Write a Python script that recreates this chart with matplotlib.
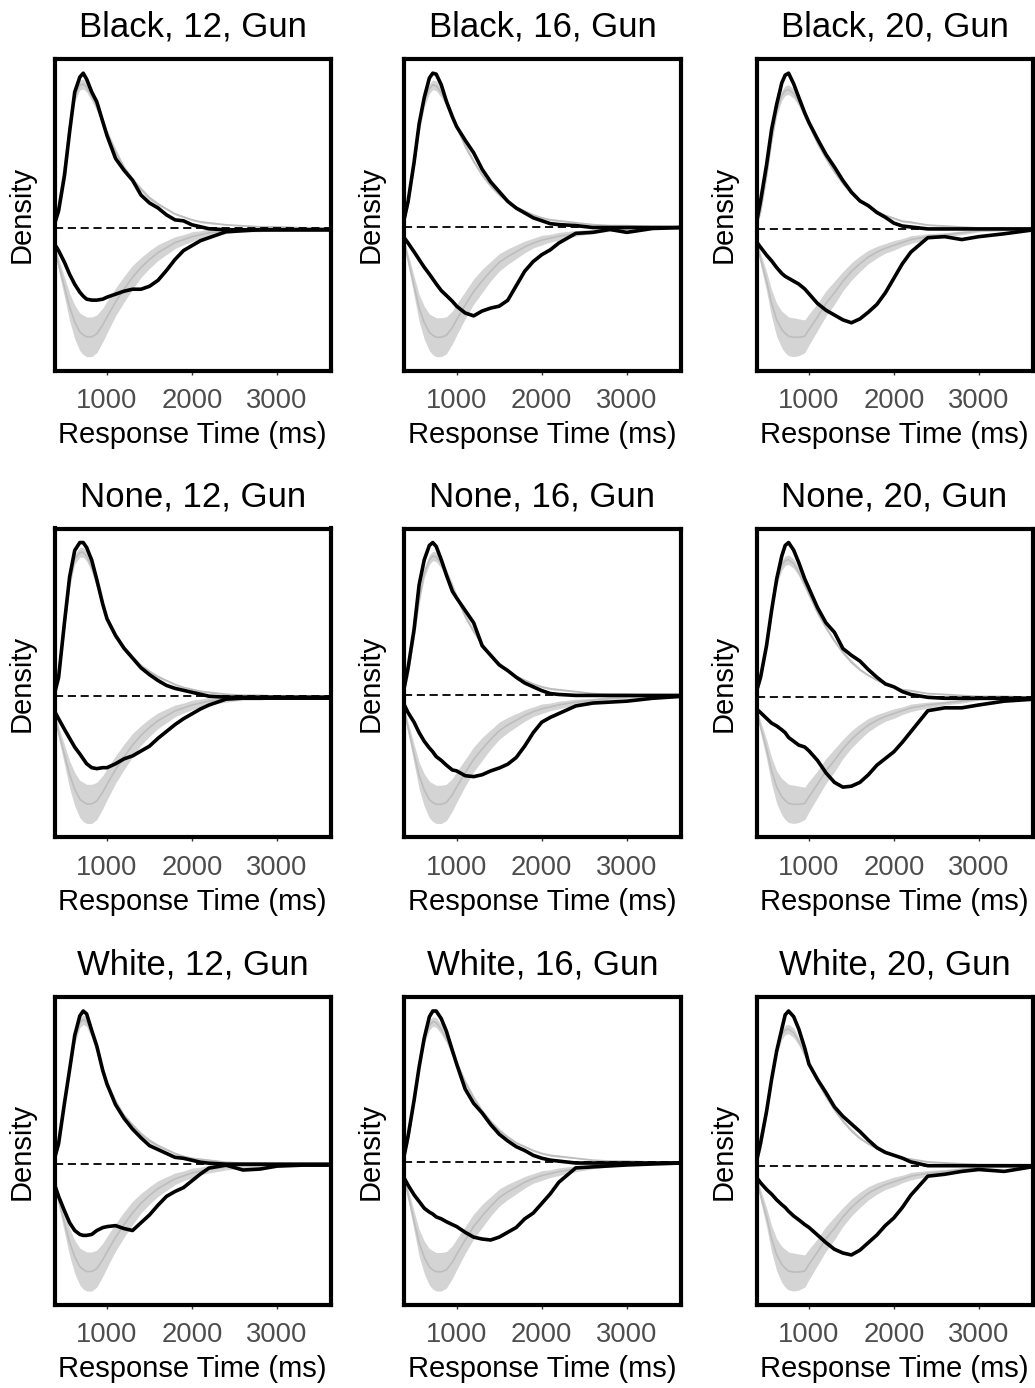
import numpy as np
import matplotlib
matplotlib.use("Agg")
import matplotlib.pyplot as plt

plt.rcParams['font.family'] = ['Liberation Sans', 'DejaVu Sans']

# response-time grid (ms) shared by every density curve
rt = [380, 430, 500, 560, 620, 680, 720, 760, 820, 880,
      950, 1000, 1100, 1200, 1300, 1400, 1500, 1600, 1700, 1800,
      1900, 2000, 2100, 2200, 2400, 2600, 2800, 3000, 3300, 3640]

# observed densities (1/s); "correct" plotted above zero, "error" mirrored below
black12_correct = [0.03, 0.17, 0.53, 0.97, 1.37, 1.52, 1.56, 1.50, 1.37, 1.27,
                   1.07, 0.93, 0.70, 0.58, 0.48, 0.33, 0.25, 0.20, 0.13, 0.08,
                   0.07, 0.03, 0.01, -0.01, -0.02, -0.02, -0.02, -0.02, -0.02, -0.02]
black12_error = [-0.16, -0.23, -0.35, -0.47, -0.57, -0.65, -0.69, -0.72, -0.73, -0.73,
                 -0.72, -0.70, -0.67, -0.64, -0.62, -0.62, -0.59, -0.53, -0.43, -0.32,
                 -0.23, -0.18, -0.13, -0.10, -0.04, -0.03, -0.02, -0.02, -0.02, -0.02]
black16_correct = [0.06, 0.26, 0.66, 1.06, 1.33, 1.53, 1.58, 1.57, 1.46, 1.29,
                   1.13, 1.03, 0.89, 0.76, 0.59, 0.46, 0.36, 0.26, 0.19, 0.14,
                   0.09, 0.06, 0.03, 0.02, 0.01, -0.01, -0.01, -0.01, -0.01, -0.01]
black16_error = [-0.11, -0.17, -0.26, -0.34, -0.42, -0.49, -0.54, -0.59, -0.66, -0.71,
                 -0.77, -0.82, -0.89, -0.92, -0.87, -0.84, -0.82, -0.76, -0.61, -0.46,
                 -0.36, -0.29, -0.24, -0.17, -0.07, -0.06, -0.03, -0.06, -0.02, -0.01]
black20_correct = [0.06, 0.29, 0.66, 1.03, 1.29, 1.51, 1.59, 1.61, 1.50, 1.36,
                   1.20, 1.10, 0.93, 0.77, 0.64, 0.50, 0.38, 0.29, 0.24, 0.17,
                   0.12, 0.06, 0.03, 0.02, 0.0, 0.0, 0.0, 0.0, 0.0, 0.0]
black20_error = [-0.13, -0.19, -0.27, -0.33, -0.40, -0.46, -0.49, -0.51, -0.54, -0.57,
                 -0.62, -0.67, -0.77, -0.84, -0.89, -0.94, -0.97, -0.93, -0.86, -0.78,
                 -0.66, -0.51, -0.36, -0.24, -0.09, -0.08, -0.11, -0.08, -0.05, -0.01]

none12_correct = [0.02, 0.19, 0.76, 1.22, 1.49, 1.57, 1.57, 1.52, 1.39, 1.19,
                  0.94, 0.79, 0.62, 0.49, 0.39, 0.29, 0.22, 0.16, 0.11, 0.08,
                  0.06, 0.04, 0.02, 0.0, -0.01, -0.01, -0.01, -0.01, -0.01, -0.01]
none12_error = [-0.15, -0.23, -0.34, -0.43, -0.52, -0.59, -0.64, -0.69, -0.73, -0.74,
                -0.73, -0.73, -0.69, -0.64, -0.61, -0.56, -0.51, -0.43, -0.36, -0.29,
                -0.23, -0.18, -0.13, -0.09, -0.03, -0.02, -0.02, -0.02, -0.02, -0.02]
none16_correct = [0.06, 0.29, 0.69, 1.16, 1.42, 1.57, 1.60, 1.56, 1.42, 1.26,
                  1.09, 1.02, 0.89, 0.76, 0.52, 0.42, 0.32, 0.26, 0.19, 0.13,
                  0.09, 0.05, 0.02, 0.01, 0.0, 0.0, 0.0, 0.0, 0.0, 0.0]
none16_error = [-0.09, -0.18, -0.28, -0.39, -0.48, -0.55, -0.59, -0.64, -0.68, -0.73,
                -0.78, -0.79, -0.84, -0.85, -0.83, -0.79, -0.76, -0.72, -0.65, -0.53,
                -0.39, -0.28, -0.23, -0.19, -0.11, -0.08, -0.07, -0.06, -0.03, -0.01]
none20_correct = [0.06, 0.21, 0.54, 0.91, 1.24, 1.48, 1.59, 1.62, 1.54, 1.41,
                  1.24, 1.14, 0.94, 0.78, 0.68, 0.51, 0.44, 0.38, 0.29, 0.21,
                  0.14, 0.11, 0.06, 0.03, 0.0, -0.01, -0.01, -0.01, -0.01, -0.01]
none20_error = [-0.12, -0.16, -0.22, -0.27, -0.30, -0.34, -0.37, -0.42, -0.46, -0.50,
                -0.52, -0.56, -0.66, -0.79, -0.89, -0.94, -0.93, -0.89, -0.81, -0.71,
                -0.64, -0.57, -0.47, -0.36, -0.14, -0.11, -0.11, -0.08, -0.04, -0.02]

white12_correct = [0.05, 0.21, 0.63, 0.97, 1.32, 1.52, 1.57, 1.54, 1.37, 1.21,
                   0.96, 0.82, 0.61, 0.47, 0.36, 0.27, 0.19, 0.15, 0.11, 0.07,
                   0.06, 0.04, 0.02, 0.01, 0.0, 0.0, 0.0, 0.0, 0.0, 0.0]
white12_error = [-0.20, -0.33, -0.48, -0.60, -0.68, -0.72, -0.73, -0.73, -0.72, -0.68,
                 -0.65, -0.64, -0.63, -0.66, -0.68, -0.60, -0.52, -0.42, -0.33, -0.28,
                 -0.24, -0.17, -0.10, -0.04, -0.01, -0.06, -0.05, -0.02, -0.01, -0.01]
white16_correct = [0.05, 0.27, 0.64, 0.99, 1.29, 1.51, 1.57, 1.57, 1.49, 1.36,
                   1.16, 1.02, 0.76, 0.61, 0.51, 0.39, 0.29, 0.22, 0.16, 0.12,
                   0.07, 0.04, 0.02, 0.01, -0.01, -0.01, -0.01, -0.01, -0.01, -0.01]
white16_error = [-0.16, -0.24, -0.34, -0.41, -0.48, -0.52, -0.54, -0.57, -0.59, -0.62,
                 -0.65, -0.67, -0.73, -0.78, -0.80, -0.81, -0.78, -0.73, -0.68, -0.59,
                 -0.53, -0.43, -0.33, -0.21, -0.06, -0.05, -0.04, -0.03, -0.02, -0.01]
white20_correct = [0.04, 0.24, 0.57, 0.91, 1.21, 1.44, 1.59, 1.63, 1.57, 1.44,
                   1.24, 1.07, 0.91, 0.77, 0.62, 0.52, 0.44, 0.36, 0.27, 0.19,
                   0.14, 0.11, 0.08, 0.04, 0.0, 0.0, 0.0, 0.0, 0.0, 0.0]
white20_error = [-0.12, -0.18, -0.25, -0.30, -0.36, -0.41, -0.44, -0.48, -0.53, -0.57,
                 -0.62, -0.65, -0.73, -0.81, -0.88, -0.92, -0.94, -0.89, -0.81, -0.73,
                 -0.63, -0.55, -0.44, -0.31, -0.11, -0.09, -0.06, -0.04, -0.06, -0.01]

# posterior predictive medians for correct responses
pred_black12_correct = [0.03, 0.22, 0.62, 1.02, 1.32, 1.44, 1.45, 1.42, 1.33, 1.22,
                        1.07, 0.96, 0.77, 0.61, 0.49, 0.39, 0.30, 0.24, 0.19, 0.14,
                        0.11, 0.08, 0.06, 0.05, 0.03, 0.02, 0.01, 0.01, 0.0, 0.0]
pred_none12_correct = [0.03, 0.20, 0.70, 1.15, 1.40, 1.47, 1.47, 1.43, 1.32, 1.15,
                       0.93, 0.80, 0.63, 0.50, 0.40, 0.31, 0.25, 0.20, 0.16, 0.12,
                       0.09, 0.07, 0.05, 0.04, 0.02, 0.01, 0.01, 0.0, 0.0, 0.0]
pred_white12_correct = [0.04, 0.21, 0.63, 0.97, 1.28, 1.45, 1.48, 1.46, 1.34, 1.18,
                        0.96, 0.83, 0.64, 0.50, 0.40, 0.31, 0.24, 0.19, 0.15, 0.11,
                        0.08, 0.06, 0.05, 0.04, 0.02, 0.01, 0.01, 0.0, 0.0, 0.0]
pred16_correct = [0.04, 0.22, 0.62, 1.00, 1.28, 1.42, 1.46, 1.45, 1.38, 1.28,
                  1.14, 1.03, 0.83, 0.67, 0.53, 0.42, 0.33, 0.26, 0.20, 0.16,
                  0.12, 0.09, 0.07, 0.06, 0.04, 0.02, 0.01, 0.01, 0.0, 0.0]
pred20_correct = [0.03, 0.18, 0.55, 0.92, 1.22, 1.38, 1.43, 1.44, 1.40, 1.31,
                  1.18, 1.08, 0.89, 0.73, 0.59, 0.47, 0.37, 0.29, 0.23, 0.18,
                  0.14, 0.11, 0.08, 0.07, 0.04, 0.03, 0.02, 0.01, 0.01, 0.0]

# posterior predictive medians for errors, one per set size
pred12_error = [-0.18, -0.37, -0.60, -0.80, -0.95, -1.05, -1.08, -1.10, -1.10, -1.07,
                -0.98, -0.90, -0.75, -0.62, -0.50, -0.40, -0.32, -0.25, -0.20, -0.15,
                -0.12, -0.09, -0.07, -0.05, -0.03, -0.02, -0.02, -0.01, -0.01, 0.0]
pred16_error = [-0.14, -0.34, -0.61, -0.84, -0.99, -1.09, -1.12, -1.14, -1.14, -1.12,
                -1.04, -0.96, -0.81, -0.67, -0.56, -0.46, -0.37, -0.31, -0.26, -0.21,
                -0.17, -0.14, -0.12, -0.10, -0.07, -0.05, -0.03, -0.02, -0.01, -0.01]
pred20_error = [-0.12, -0.31, -0.54, -0.77, -0.94, -1.04, -1.08, -1.11, -1.12, -1.12,
                -1.11, -1.04, -0.91, -0.77, -0.66, -0.54, -0.44, -0.36, -0.29, -0.24,
                -0.20, -0.17, -0.14, -0.11, -0.08, -0.06, -0.04, -0.02, -0.01, -0.01]

# half-width of the 95% predictive interval
band_correct = [0.01, 0.02, 0.03, 0.04, 0.05, 0.05, 0.05, 0.05, 0.05, 0.04,
                0.04, 0.03, 0.03, 0.02, 0.02, 0.02, 0.02, 0.015, 0.01, 0.01,
                0.01, 0.01, 0.01, 0.01, 0.005, 0.005, 0.005, 0.005, 0.005, 0.005]
band_error = [0.03, 0.06, 0.10, 0.14, 0.17, 0.19, 0.20, 0.20, 0.20, 0.19,
              0.17, 0.16, 0.14, 0.13, 0.12, 0.10, 0.09, 0.08, 0.07, 0.06,
              0.05, 0.05, 0.04, 0.04, 0.03, 0.02, 0.02, 0.01, 0.01, 0.01]

primes = ["Black", "None", "White"]
set_sizes = ["12", "16", "20"]
observed = [[(black12_correct, black12_error), (black16_correct, black16_error), (black20_correct, black20_error)],
            [(none12_correct, none12_error), (none16_correct, none16_error), (none20_correct, none20_error)],
            [(white12_correct, white12_error), (white16_correct, white16_error), (white20_correct, white20_error)]]
predicted = [[(pred_black12_correct, pred12_error), (pred16_correct, pred16_error), (pred20_correct, pred20_error)],
             [(pred_none12_correct, pred12_error), (pred16_correct, pred16_error), (pred20_correct, pred20_error)],
             [(pred_white12_correct, pred12_error), (pred16_correct, pred16_error), (pred20_correct, pred20_error)]]

W, H = 1035, 1388
fig = plt.figure(figsize=(W / 100, H / 100), dpi=100)

col_px = [(54.5, 330.8), (404, 680.8), (756.5, 1032.5)]
row_px = [(59, 370.8), (528.5, 837.5), (997, 1305)]

x = np.array(rt)
bc = np.array(band_correct)
be = np.array(band_error)

for r, prime in enumerate(primes):
    for c, size in enumerate(set_sizes):
        (l, rr), (t, b) = col_px[c], row_px[r]
        ax = fig.add_axes([l / W, 1 - b / H, (rr - l) / W, (b - t) / H])

        pc, pe = np.array(predicted[r][c][0]), np.array(predicted[r][c][1])
        oc, oe = observed[r][c]

        # predictive interval + median, then zero line, then observed densities
        ax.fill_between(x, pc - bc, pc + bc, color="#d4d4d4", lw=0, zorder=1)
        ax.fill_between(x, pe - be, pe + be, color="#d4d4d4", lw=0, zorder=1)
        ax.plot(x, pc, color="#bdbdbd", lw=1.2, zorder=2)
        ax.plot(x, pe, color="#bdbdbd", lw=1.2, zorder=2)
        ax.axhline(0, color="black", lw=1.3, linestyle=(0, (4.5, 2.6)), zorder=3)
        ax.plot(x, oc, color="black", lw=2.6, zorder=4, solid_joinstyle="round")
        ax.plot(x, oe, color="black", lw=2.6, zorder=4, solid_joinstyle="round")

        ax.set_xlim(382, 3633)
        ax.margins(y=0.05)
        ax.set_xticks([1000, 2000, 3000])
        ax.set_yticks([])
        ax.tick_params(axis="x", length=3, width=1.0, color="#333333",
                       labelsize=19.7, labelcolor="#4d4d4d", pad=9.3)
        for s in ax.spines.values():
            s.set_linewidth(3.0)
            s.set_color("black")
        ax.set_title(f"{prime}, {size}, Gun", fontsize=25, pad=16)
        ax.set_xlabel("Response Time (ms)", fontsize=21, labelpad=5.2)
        ax.set_ylabel("Density", fontsize=21, labelpad=13.8)

fig.savefig("out.png", dpi=100)
